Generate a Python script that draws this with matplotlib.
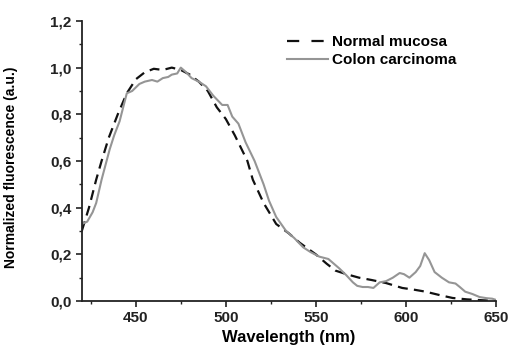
import matplotlib.pyplot as plt
from matplotlib.lines import Line2D
from matplotlib.ticker import MultipleLocator, FuncFormatter

# Normal mucosa (dashed)
wl_normal = [420, 424, 428, 431, 435, 440, 445, 450, 455, 460, 465, 470, 475, 480,
             485, 490, 495, 500, 505, 512, 515, 521, 528, 535, 541, 550, 556, 561,
             567, 574, 581, 589, 598, 605, 611, 619, 626, 634, 641, 650]
fl_normal = [0.30, 0.40, 0.52, 0.60, 0.70, 0.80, 0.89, 0.95, 0.98, 0.995, 0.99, 1.0, 0.99, 0.97,
             0.94, 0.90, 0.83, 0.78, 0.71, 0.60, 0.52, 0.42, 0.33, 0.29, 0.25, 0.20, 0.16, 0.13,
             0.115, 0.10, 0.09, 0.077, 0.056, 0.048, 0.04, 0.025, 0.013, 0.007, 0.004, 0.0]

# Colon carcinoma (grey solid)
wl_cancer = [420, 423, 426, 428, 431, 435.5, 438, 441, 443, 445, 448, 452, 455, 459,
             462, 465, 468, 470, 473, 475, 478, 481, 485, 489, 493, 498, 501, 503.6,
             507, 511, 516, 521, 524, 528, 533.5, 538, 543, 547, 552, 557, 563, 567,
             570.6, 573, 576, 579, 582, 585.5, 589, 592.8, 596.6, 599, 602, 605.5, 608,
             610.5, 613, 616, 620, 624, 627.6, 630, 633, 637, 641, 645, 648, 650]
fl_cancer = [0.33, 0.34, 0.38, 0.42, 0.52, 0.65, 0.71, 0.77, 0.83, 0.89, 0.90, 0.93, 0.94, 0.947,
             0.94, 0.955, 0.96, 0.97, 0.975, 1.0, 0.98, 0.955, 0.94, 0.92, 0.88, 0.84, 0.84, 0.79,
             0.76, 0.68, 0.60, 0.50, 0.43, 0.36, 0.30, 0.27, 0.23, 0.21, 0.19, 0.18, 0.14, 0.11,
             0.08, 0.065, 0.06, 0.06, 0.056, 0.08, 0.085, 0.10, 0.12, 0.115, 0.10, 0.124, 0.15,
             0.205, 0.175, 0.124, 0.10, 0.08, 0.075, 0.06, 0.04, 0.03, 0.017, 0.012, 0.01, 0.005]

x_ticks = [450, 500, 550, 600, 650]
y_ticks = [0.0, 0.2, 0.4, 0.6, 0.8, 1.0, 1.2]

plt.rcParams['font.family'] = ['Liberation Sans', 'DejaVu Sans']
plt.rcParams['font.weight'] = 'bold'

fig = plt.figure(figsize=(5.08, 3.49), dpi=100)
ax = fig.add_axes([0.161, 0.1375, 0.815, 0.8025])

gray = '#959595'
ax.plot(wl_normal, fl_normal, color='#111111', lw=1.6, dashes=(4.5, 2.8))
ax.plot(wl_cancer, fl_cancer, color=gray, lw=1.5)

ax.set_xlim(420, 650)
ax.set_ylim(0, 1.2)
ax.set_xticks(x_ticks)
ax.set_yticks(y_ticks)
ax.xaxis.set_minor_locator(MultipleLocator(25))
ax.yaxis.set_minor_locator(MultipleLocator(0.1))
ax.yaxis.set_major_formatter(FuncFormatter(lambda v, p: f"{v:.1f}".replace('.', ',')))

for s in ['top', 'right']:
    ax.spines[s].set_visible(False)
for s in ['left', 'bottom']:
    ax.spines[s].set_linewidth(1.3)
    ax.spines[s].set_color('#222222')

ax.tick_params(which='major', direction='out', length=4, width=1.2, labelsize=11, colors='#222222')
ax.tick_params(which='minor', direction='out', length=2.5, width=1.0, colors='#222222')

ax.set_xlabel('Wavelength (nm)', fontsize=12, fontweight='bold', labelpad=3)
ax.set_ylabel('Normalized fluorescence (a.u.)', fontsize=10, fontweight='bold')
ax.yaxis.set_label_coords(-0.155, 0.478)

handles = [Line2D([], [], color='#111111', lw=1.6, dashes=(5.5, 5.5)),
           Line2D([], [], color=gray, lw=1.5)]
ax.legend(handles, ['Normal mucosa', 'Colon carcinoma'], loc='upper left',
          bbox_to_anchor=(0.48, 0.97), frameon=False, fontsize=11,
          handlelength=2.7, handletextpad=0.3, labelspacing=0.25, borderaxespad=0)

fig.savefig('out.png', dpi=100)
